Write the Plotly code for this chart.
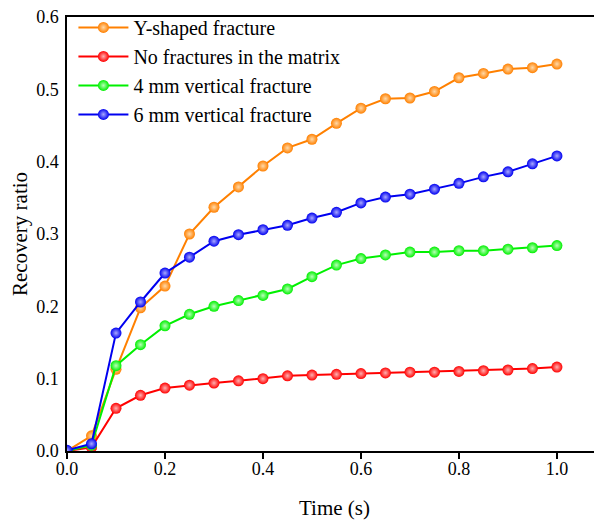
import plotly.graph_objects as go

time_s = [0.0, 0.05, 0.1, 0.15, 0.2, 0.25, 0.3, 0.35, 0.4, 0.45, 0.5,
          0.55, 0.6, 0.65, 0.7, 0.75, 0.8, 0.85, 0.9, 0.95, 1.0]

y_shaped = [0.0, 0.021, 0.113, 0.198, 0.228, 0.300, 0.337, 0.365, 0.394, 0.419, 0.431,
            0.453, 0.474, 0.487, 0.488, 0.497, 0.516, 0.522, 0.528, 0.530, 0.535]
no_fracture = [0.0, 0.005, 0.059, 0.077, 0.087, 0.091, 0.094, 0.097, 0.100, 0.104, 0.105,
               0.106, 0.107, 0.108, 0.109, 0.109, 0.110, 0.111, 0.112, 0.114, 0.116]
vert_4mm = [0.0, 0.008, 0.118, 0.147, 0.173, 0.189, 0.200, 0.208, 0.215, 0.224, 0.241,
            0.257, 0.266, 0.271, 0.275, 0.275, 0.277, 0.277, 0.279, 0.281, 0.284]
vert_6mm = [0.001, 0.010, 0.163, 0.206, 0.246, 0.268, 0.290, 0.299, 0.306, 0.312, 0.322,
            0.330, 0.343, 0.351, 0.355, 0.362, 0.370, 0.379, 0.386, 0.397, 0.408]

names = ["Y-shaped fracture", "No fractures in the matrix",
         "4 mm vertical fracture", "6 mm vertical fracture"]
series = [y_shaped, no_fracture, vert_4mm, vert_6mm]
colors = ["#FF8000", "#FF0000", "#00F000", "#0000F0"]
highlights = ["#FFD9A8", "#FFB0B0", "#B8FFB8", "#A8A8FF"]

FONT = "Liberation Serif"

fig = go.Figure()
for name, ys, c, h in zip(names, series, colors, highlights):
    fig.add_trace(go.Scatter(
        x=time_s, y=ys, name=name, mode="lines+markers",
        line=dict(color=c, width=2),
        marker=dict(color=c, size=11, line=dict(width=0),
                    gradient=dict(type="radial", color=h)),
    ))

# page body has an 8px margin, so the figure is sized/offset to compensate
fig.update_layout(
    width=594, height=512,
    margin=dict(l=59, r=0, t=9, b=69, autoexpand=False),
    plot_bgcolor="white", paper_bgcolor="white",
    font=dict(family=FONT, size=18, color="black"),
    showlegend=True,
    legend=dict(x=0.012, y=1.021, xanchor="left", yanchor="top",
                font=dict(family=FONT, size=20, color="black"),
                bgcolor="rgba(0,0,0,0)", tracegroupgap=0,
                itemwidth=50),
)
fig.update_xaxes(
    range=[0, 1.092], tickvals=[0, 0.2, 0.4, 0.6, 0.8, 1.0],
    ticktext=["0.0", "0.2", "0.4", "0.6", "0.8", "1.0"],
    showline=True, linecolor="black", linewidth=1.5, mirror=True,
    ticks="outside", ticklen=6, tickwidth=1.5, tickcolor="black",
    showgrid=False, zeroline=False, automargin=False,
    ticklabelstandoff=-5, ticklabeloverflow="allow",
    title=dict(text="Time (s)", font=dict(family=FONT, size=21), standoff=22),
    tickfont=dict(family=FONT, size=18),
)
fig.update_yaxes(
    range=[0, 0.6], tickvals=[0, 0.1, 0.2, 0.3, 0.4, 0.5, 0.6],
    ticktext=["0.0", "0.1", "0.2", "0.3", "0.4", "0.5", "0.6"],
    showline=True, linecolor="black", linewidth=1.5,
    ticks="", showgrid=False, zeroline=False, automargin=False,
    ticklabelstandoff=3, ticklabeloverflow="allow",
    title=dict(text="Recovery ratio", font=dict(family=FONT, size=21), standoff=8),
    tickfont=dict(family=FONT, size=18),
)

fig.write_html("out.html")
